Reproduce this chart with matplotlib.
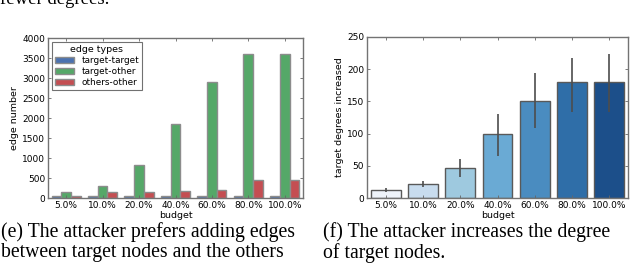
import numpy as np
import matplotlib
matplotlib.use("Agg")
import matplotlib.pyplot as plt

budgets = ["5.0%", "10.0%", "20.0%", "40.0%", "60.0%", "80.0%", "100.0%"]
edge_types = ["target-target", "target-other", "others-other"]
tt = [40, 50, 50, 50, 50, 50, 50]
to = [150, 300, 820, 1850, 2900, 3600, 3600]
oo = [50, 150, 160, 170, 200, 440, 440]
deg_mean = [12, 21, 47, 100, 151, 180, 180]
deg_lo = [9, 17, 32, 65, 108, 134, 134]
deg_hi = [15, 26, 61, 131, 194, 218, 224]

edge_colors = ["#4C72B0", "#55A868", "#C44E52"]
blues = ["#eef3fa", "#c8dcee", "#9ec9df", "#6aaad4", "#4a8cc0", "#2f6ea8", "#1c4f8a"]

plt.rcParams.update({"font.family": "DejaVu Sans", "xtick.direction": "in",
                     "ytick.direction": "in", "xtick.top": True, "ytick.right": True})

fig = plt.figure(figsize=(6.4, 2.79), dpi=100)
W, H = 640, 279

def ax_at(x0, y0, x1, y1):
    return fig.add_axes([x0 / W, 1 - y1 / H, (x1 - x0) / W, (y1 - y0) / H])

ax1 = ax_at(48, 38, 303, 198)
ax2 = ax_at(367, 37, 628, 198)

xi = np.arange(len(budgets))
bw = 0.8 / 3
for k, (vals, c, lab) in enumerate(zip([tt, to, oo], edge_colors, edge_types)):
    ax1.bar(xi + (k - 1) * bw, vals, bw, color=c, edgecolor="0.55", lw=1.0, label=lab)
ax1.set_ylim(0, 4000)
ax1.set_xlim(-0.5, len(budgets) - 0.5)
ax1.set_ylabel("edge number", fontsize=6.8, labelpad=2)
ax1.set_xlabel("budget", fontsize=6.8, labelpad=1)
leg = ax1.legend(title="edge types", loc="upper left", fontsize=6.4, title_fontsize=6.8,
                 handlelength=2.2, borderpad=0.35, labelspacing=0.25, fancybox=False,
                 edgecolor="0.3", borderaxespad=0.4)
leg.get_frame().set_linewidth(0.8)

ax2.bar(xi, deg_mean, 0.8, color=blues, edgecolor="0.35", lw=1.0)
yerr = [np.subtract(deg_mean, deg_lo), np.subtract(deg_hi, deg_mean)]
ax2.errorbar(xi, deg_mean, yerr=yerr, fmt="none", ecolor="0.3", elinewidth=1.2)
ax2.set_ylim(0, 250)
ax2.set_xlim(-0.5, len(budgets) - 0.5)
ax2.set_ylabel("target degrees increased", fontsize=6.8, labelpad=2)
ax2.set_xlabel("budget", fontsize=6.8, labelpad=1)

for ax in (ax1, ax2):
    ax.set_xticks(xi)
    ax.set_xticklabels(budgets)
    ax.tick_params(labelsize=6.5, length=2.5, width=0.6, color="0.4", pad=2)
    for s in ax.spines.values():
        s.set_color("0.45")
        s.set_linewidth(1.0)

serif = "Liberation Serif"
fig.text(0.0, 1 - 3.5 / H, "fewer degrees.", family=serif, fontsize=13.5, va="baseline", ha="left")
fig.text(0.002, 1 - 222 / H, "(e) The attacker prefers adding edges\nbetween target nodes and the others",
         family=serif, fontsize=14.2, va="top", ha="left", linespacing=1.05)
fig.text(0.505, 1 - 222 / H, "(f) The attacker increases the degree\nof target nodes.",
         family=serif, fontsize=14.2, va="top", ha="left", linespacing=1.05)

fig.savefig("out.png", dpi=100)
